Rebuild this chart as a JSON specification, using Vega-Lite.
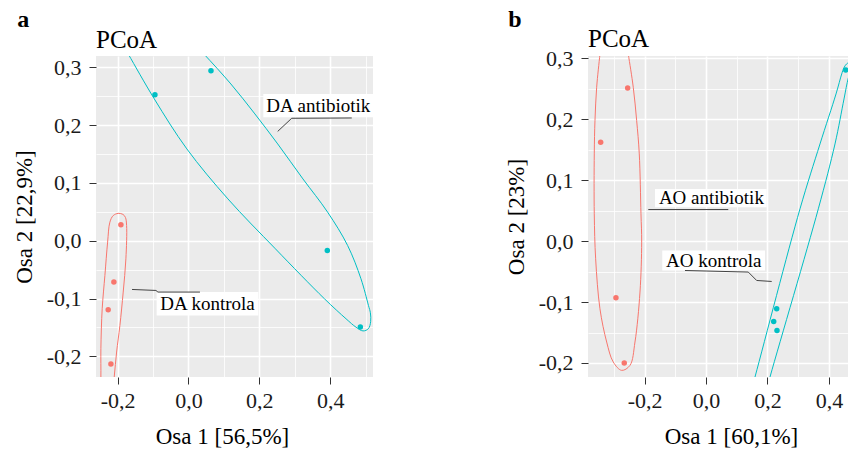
{
  "$schema": "https://vega.github.io/schema/vega-lite/v6.json",
  "padding": {"left": 13, "top": 8, "right": 0, "bottom": 0},
  "spacing": 132,
  "config": {
    "view": {"fill": "#EBEBEB", "stroke": null},
    "font": "Liberation Serif",
    "axis": {
      "domain": false,
      "labelFont": "Liberation Serif",
      "labelFontSize": 22,
      "labelColor": "#1a1a1a",
      "titleFont": "Liberation Serif",
      "titleFontSize": 23,
      "titleFontWeight": "normal",
      "titleColor": "#000000",
      "tickColor": "#333333",
      "tickSize": 7,
      "tickWidth": 1,
      "tickCount": 40,
      "gridColor": "#FFFFFF",
      "labelOverlap": false,
      "labelFlush": false,
      "labelBound": false
    },
    "axisX": {"labelPadding": 6, "titlePadding": 14},
    "axisY": {"labelPadding": 8, "titlePadding": 10},
    "title": {"font": "Liberation Serif", "fontWeight": "normal", "color": "#000000"}
  },
  "datasets": {
    "ptsA": [
      {"x": -0.0946, "y": 0.2526, "grp": "DA antibiotik"},
      {"x": 0.0636, "y": 0.294, "grp": "DA antibiotik"},
      {"x": 0.392, "y": -0.0169, "grp": "DA antibiotik"},
      {"x": 0.4853, "y": -0.1493, "grp": "DA antibiotik"},
      {"x": -0.1907, "y": 0.0275, "grp": "DA kontrola"},
      {"x": -0.2105, "y": -0.0715, "grp": "DA kontrola"},
      {"x": -0.2266, "y": -0.1194, "grp": "DA kontrola"},
      {"x": -0.2189, "y": -0.2132, "grp": "DA kontrola"}
    ],
    "ellA": [
      {"grp": "DA antibiotik", "i": 0, "x": -0.1946, "y": 0.3488},
      {"grp": "DA antibiotik", "i": 1, "x": -0.1701, "y": 0.323},
      {"grp": "DA antibiotik", "i": 2, "x": -0.0963, "y": 0.2452},
      {"grp": "DA antibiotik", "i": 3, "x": -0.0045, "y": 0.1588},
      {"grp": "DA antibiotik", "i": 4, "x": 0.1113, "y": 0.0724},
      {"grp": "DA antibiotik", "i": 5, "x": 0.2455, "y": -0.014},
      {"grp": "DA antibiotik", "i": 6, "x": 0.3839, "y": -0.1004},
      {"grp": "DA antibiotik", "i": 7, "x": 0.4449, "y": -0.135},
      {"grp": "DA antibiotik", "i": 8, "x": 0.4732, "y": -0.1496},
      {"grp": "DA antibiotik", "i": 9, "x": 0.4929, "y": -0.156},
      {"grp": "DA antibiotik", "i": 10, "x": 0.5079, "y": -0.1522},
      {"grp": "DA antibiotik", "i": 11, "x": 0.5144, "y": -0.1401},
      {"grp": "DA antibiotik", "i": 12, "x": 0.5136, "y": -0.1246},
      {"grp": "DA antibiotik", "i": 13, "x": 0.5082, "y": -0.112},
      {"grp": "DA antibiotik", "i": 14, "x": 0.487, "y": -0.0658},
      {"grp": "DA antibiotik", "i": 15, "x": 0.4494, "y": -0.0083},
      {"grp": "DA antibiotik", "i": 16, "x": 0.3929, "y": 0.0494},
      {"grp": "DA antibiotik", "i": 17, "x": 0.3232, "y": 0.1069},
      {"grp": "DA antibiotik", "i": 18, "x": 0.252, "y": 0.1674},
      {"grp": "DA antibiotik", "i": 19, "x": 0.1876, "y": 0.2193},
      {"grp": "DA antibiotik", "i": 20, "x": 0.1198, "y": 0.2711},
      {"grp": "DA antibiotik", "i": 21, "x": 0.0435, "y": 0.323},
      {"grp": "DA antibiotik", "i": 22, "x": 0.0031, "y": 0.3488},
      {"grp": "DA kontrola", "i": 0, "x": -0.2486, "y": -0.2732},
      {"grp": "DA kontrola", "i": 1, "x": -0.2472, "y": -0.2357},
      {"grp": "DA kontrola", "i": 2, "x": -0.2472, "y": -0.1868},
      {"grp": "DA kontrola", "i": 3, "x": -0.2435, "y": -0.1177},
      {"grp": "DA kontrola", "i": 4, "x": -0.2359, "y": -0.0601},
      {"grp": "DA kontrola", "i": 5, "x": -0.2282, "y": -0.0024},
      {"grp": "DA kontrola", "i": 6, "x": -0.2218, "y": 0.0321},
      {"grp": "DA kontrola", "i": 7, "x": -0.2124, "y": 0.0435},
      {"grp": "DA kontrola", "i": 8, "x": -0.1983, "y": 0.0473},
      {"grp": "DA kontrola", "i": 9, "x": -0.185, "y": 0.0456},
      {"grp": "DA kontrola", "i": 10, "x": -0.178, "y": 0.0404},
      {"grp": "DA kontrola", "i": 11, "x": -0.1746, "y": 0.0263},
      {"grp": "DA kontrola", "i": 12, "x": -0.1766, "y": -0.0313},
      {"grp": "DA kontrola", "i": 13, "x": -0.1842, "y": -0.0888},
      {"grp": "DA kontrola", "i": 14, "x": -0.1935, "y": -0.1465},
      {"grp": "DA kontrola", "i": 15, "x": -0.2028, "y": -0.1925},
      {"grp": "DA kontrola", "i": 16, "x": -0.2096, "y": -0.2357},
      {"grp": "DA kontrola", "i": 17, "x": -0.2161, "y": -0.2732}
    ],
    "segA": [
      {"id": "s1", "i": 0, "x": 0.252, "y": 0.1891},
      {"id": "s1", "i": 1, "x": 0.2915, "y": 0.2118},
      {"id": "s1", "i": 2, "x": 0.461, "y": 0.2123},
      {"id": "s2", "i": 0, "x": -0.1593, "y": -0.0843},
      {"id": "s2", "i": 1, "x": -0.0918, "y": -0.086},
      {"id": "s2", "i": 2, "x": -0.0862, "y": -0.0888},
      {"id": "s2", "i": 3, "x": 0.0325, "y": -0.0888}
    ],
    "lblA": [
      {"t": "DA antibiotik", "x": 0.3667, "y": 0.233, "x1": 0.2113, "x2": 0.521, "y1": 0.2135, "y2": 0.2538},
      {"t": "DA kontrola", "x": 0.0537, "y": -0.109, "x1": -0.0898, "x2": 0.1972, "y1": -0.1292, "y2": -0.0888}
    ],
    "ptsB": [
      {"x": -0.3428, "y": 0.1623, "grp": "AO antibiotik"},
      {"x": -0.2549, "y": 0.2513, "grp": "AO antibiotik"},
      {"x": -0.293, "y": -0.093, "grp": "AO antibiotik"},
      {"x": -0.266, "y": -0.2, "grp": "AO antibiotik"},
      {"x": 0.4548, "y": 0.2808, "grp": "AO kontrola"},
      {"x": 0.2301, "y": -0.111, "grp": "AO kontrola"},
      {"x": 0.2204, "y": -0.1318, "grp": "AO kontrola"},
      {"x": 0.2311, "y": -0.1466, "grp": "AO kontrola"}
    ],
    "ellB": [
      {"grp": "AO antibiotik", "i": 0, "x": -0.3402, "y": 0.3316},
      {"grp": "AO antibiotik", "i": 1, "x": -0.3451, "y": 0.307},
      {"grp": "AO antibiotik", "i": 2, "x": -0.3558, "y": 0.2525},
      {"grp": "AO antibiotik", "i": 3, "x": -0.3613, "y": 0.1977},
      {"grp": "AO antibiotik", "i": 4, "x": -0.3636, "y": 0.1431},
      {"grp": "AO antibiotik", "i": 5, "x": -0.3636, "y": 0.0448},
      {"grp": "AO antibiotik", "i": 6, "x": -0.3591, "y": -0.029},
      {"grp": "AO antibiotik", "i": 7, "x": -0.3451, "y": -0.111},
      {"grp": "AO antibiotik", "i": 8, "x": -0.3232, "y": -0.1656},
      {"grp": "AO antibiotik", "i": 9, "x": -0.3018, "y": -0.1984},
      {"grp": "AO antibiotik", "i": 10, "x": -0.2744, "y": -0.2121},
      {"grp": "AO antibiotik", "i": 11, "x": -0.2474, "y": -0.2039},
      {"grp": "AO antibiotik", "i": 12, "x": -0.2311, "y": -0.1656},
      {"grp": "AO antibiotik", "i": 13, "x": -0.2148, "y": -0.0836},
      {"grp": "AO antibiotik", "i": 14, "x": -0.2093, "y": -0.0016},
      {"grp": "AO antibiotik", "i": 15, "x": -0.2116, "y": 0.0448},
      {"grp": "AO antibiotik", "i": 16, "x": -0.2171, "y": 0.1431},
      {"grp": "AO antibiotik", "i": 17, "x": -0.2256, "y": 0.1977},
      {"grp": "AO antibiotik", "i": 18, "x": -0.2367, "y": 0.2525},
      {"grp": "AO antibiotik", "i": 19, "x": -0.2529, "y": 0.307},
      {"grp": "AO antibiotik", "i": 20, "x": -0.2604, "y": 0.3316},
      {"grp": "AO kontrola", "i": 0, "x": 0.127, "y": -0.2831},
      {"grp": "AO kontrola", "i": 1, "x": 0.1595, "y": -0.223},
      {"grp": "AO kontrola", "i": 2, "x": 0.306, "y": 0.053},
      {"grp": "AO kontrola", "i": 3, "x": 0.3711, "y": 0.1595},
      {"grp": "AO kontrola", "i": 4, "x": 0.4232, "y": 0.2415},
      {"grp": "AO kontrola", "i": 5, "x": 0.4417, "y": 0.2743},
      {"grp": "AO kontrola", "i": 6, "x": 0.4486, "y": 0.2841},
      {"grp": "AO kontrola", "i": 7, "x": 0.4574, "y": 0.2907},
      {"grp": "AO kontrola", "i": 8, "x": 0.4671, "y": 0.2931},
      {"grp": "AO kontrola", "i": 9, "x": 0.4736, "y": 0.2898},
      {"grp": "AO kontrola", "i": 10, "x": 0.472, "y": 0.2808},
      {"grp": "AO kontrola", "i": 11, "x": 0.4632, "y": 0.2677},
      {"grp": "AO kontrola", "i": 12, "x": 0.4492, "y": 0.2333},
      {"grp": "AO kontrola", "i": 13, "x": 0.4199, "y": 0.1595},
      {"grp": "AO kontrola", "i": 14, "x": 0.3656, "y": 0.053},
      {"grp": "AO kontrola", "i": 15, "x": 0.2083, "y": -0.223},
      {"grp": "AO kontrola", "i": 16, "x": 0.1758, "y": -0.2831}
    ],
    "segB": [
      {"id": "s1", "i": 0, "x": -0.1878, "y": 0.0518},
      {"id": "s1", "i": 1, "x": 0.0726, "y": 0.0518},
      {"id": "s2", "i": 0, "x": -0.0684, "y": -0.0482},
      {"id": "s2", "i": 1, "x": 0.1377, "y": -0.0508},
      {"id": "s2", "i": 2, "x": 0.165, "y": -0.0646},
      {"id": "s2", "i": 3, "x": 0.2139, "y": -0.0662}
    ],
    "lblB": [
      {"t": "AO antibiotik", "x": 0.0176, "y": 0.071, "x1": -0.166, "x2": 0.1976, "y1": 0.0557, "y2": 0.0857},
      {"t": "AO kontrola", "x": 0.0251, "y": -0.0331, "x1": -0.1423, "x2": 0.1921, "y1": -0.0482, "y2": -0.0154}
    ]
  },
  "hconcat": [
    {
      "title": {"text": "a", "anchor": "start", "frame": "bounds", "fontSize": 24, "fontWeight": "bold", "dx": 4, "offset": -4},
      "vconcat": [
        {
          "width": 277,
          "height": 321,
          "title": {"text": "PCoA", "anchor": "start", "frame": "group", "fontSize": 25, "offset": 3},
          "layer": [
            {
              "data": {"name": "ellA"},
              "mark": {"type": "line", "clip": true, "strokeWidth": 1, "interpolate": "catmull-rom"},
              "encoding": {
                "x": {"field": "x", "type": "quantitative", "title": "Osa 1 [56,5%]",
                  "scale": {"domain": [-0.261, 0.521], "nice": false, "zero": false},
                  "axis": {
                    "values": [-0.2, -0.1, 0, 0.1, 0.2, 0.3, 0.4, 0.5],
                    "tickCount": 40,
                    "labelExpr": "abs(round(datum.value*10)) % 2 == 0 ? replace(replace(format(datum.value, '.1f'), '.', ','), '\u2212', '-') : ''",
                    "gridWidth": {"condition": {"test": "abs(round(datum.value*10)) % 2 == 0", "value": 1.6}, "value": 0.8},
                    "tickOpacity": {"condition": {"test": "abs(round(datum.value*10)) % 2 == 0", "value": 1}, "value": 0},
                    "titleX": 126
                  }},
                "y": {"field": "y", "type": "quantitative", "title": "Osa 2 [22,9%]",
                  "scale": {"domain": [-0.2357, 0.3195], "nice": false, "zero": false},
                  "axis": {
                    "values": [-0.2, -0.15, -0.1, -0.05, 0, 0.05, 0.1, 0.15, 0.2, 0.25, 0.3],
                    "tickCount": 40,
                    "labelExpr": "abs(round(datum.value*100)) % 10 == 0 ? replace(replace(format(datum.value, '.1f'), '.', ','), '\u2212', '-') : ''",
                    "gridWidth": {"condition": {"test": "abs(round(datum.value*100)) % 10 == 0", "value": 1.6}, "value": 0.8},
                    "tickOpacity": {"condition": {"test": "abs(round(datum.value*100)) % 10 == 0", "value": 1}, "value": 0}
                  }},
                "color": {"field": "grp", "type": "nominal", "scale": {"domain": ["DA kontrola", "DA antibiotik"], "range": ["#F8766D", "#00BFC4"]}, "legend": null},
                "detail": {"field": "grp"},
                "order": {"field": "i", "type": "quantitative"}
              }
            },
            {
              "data": {"name": "ptsA"},
              "mark": {"type": "circle", "size": 30, "opacity": 1, "clip": true},
              "encoding": {
                "x": {"field": "x", "type": "quantitative", "title": "Osa 1 [56,5%]"},
                "y": {"field": "y", "type": "quantitative", "title": "Osa 2 [22,9%]"},
                "color": {"field": "grp", "type": "nominal", "legend": null}
              }
            },
            {
              "data": {"name": "lblA"},
              "mark": {"type": "rect", "fill": "#FFFFFF", "clip": true},
              "encoding": {
                "x": {"field": "x1", "type": "quantitative", "title": "Osa 1 [56,5%]"},
                "x2": {"field": "x2"},
                "y": {"field": "y1", "type": "quantitative", "title": "Osa 2 [22,9%]"},
                "y2": {"field": "y2"}
              }
            },
            {
              "data": {"name": "segA"},
              "mark": {"type": "line", "clip": true, "strokeWidth": 1, "color": "#444444"},
              "encoding": {
                "x": {"field": "x", "type": "quantitative", "title": "Osa 1 [56,5%]"},
                "y": {"field": "y", "type": "quantitative", "title": "Osa 2 [22,9%]"},
                "detail": {"field": "id"},
                "order": {"field": "i", "type": "quantitative"}
              }
            },
            {
              "data": {"name": "lblA"},
              "mark": {"type": "text", "font": "Liberation Serif", "fontSize": 19, "color": "#000000", "align": "center", "baseline": "middle", "clip": true},
              "encoding": {
                "x": {"field": "x", "type": "quantitative", "title": "Osa 1 [56,5%]"},
                "y": {"field": "y", "type": "quantitative", "title": "Osa 2 [22,9%]"},
                "text": {"field": "t"}
              }
            }
          ]
        }
      ]
    },
    {
      "title": {"text": "b", "anchor": "start", "frame": "bounds", "fontSize": 24, "fontWeight": "bold", "dx": 3, "offset": -5},
      "vconcat": [
        {
          "width": 260,
          "height": 321,
          "title": {"text": "PCoA", "anchor": "start", "frame": "group", "fontSize": 25, "offset": -5},
          "layer": [
            {
              "data": {"name": "ellB"},
              "mark": {"type": "line", "clip": true, "strokeWidth": 1, "interpolate": "catmull-rom"},
              "encoding": {
                "x": {"field": "x", "type": "quantitative", "title": "Osa 1 [60,1%]",
                  "scale": {"domain": [-0.384, 0.4622], "nice": false, "zero": false},
                  "axis": {
                    "values": [-0.3, -0.2, -0.1, 0, 0.1, 0.2, 0.3, 0.4],
                    "tickCount": 40,
                    "labelExpr": "abs(round(datum.value*10)) % 2 == 0 ? replace(replace(format(datum.value, '.1f'), '.', ','), '\u2212', '-') : ''",
                    "gridWidth": {"condition": {"test": "abs(round(datum.value*10)) % 2 == 0", "value": 1.6}, "value": 0.8},
                    "tickOpacity": {"condition": {"test": "abs(round(datum.value*10)) % 2 == 0", "value": 1}, "value": 0},
                    "titleX": 143
                  }},
                "y": {"field": "y", "type": "quantitative", "title": "Osa 2 [23%]",
                  "scale": {"domain": [-0.223, 0.3038], "nice": false, "zero": false},
                  "axis": {
                    "values": [-0.2, -0.15, -0.1, -0.05, 0, 0.05, 0.1, 0.15, 0.2, 0.25, 0.3],
                    "tickCount": 40,
                    "labelExpr": "abs(round(datum.value*100)) % 10 == 0 ? replace(replace(format(datum.value, '.1f'), '.', ','), '\u2212', '-') : ''",
                    "gridWidth": {"condition": {"test": "abs(round(datum.value*100)) % 10 == 0", "value": 1.6}, "value": 0.8},
                    "tickOpacity": {"condition": {"test": "abs(round(datum.value*100)) % 10 == 0", "value": 1}, "value": 0}
                  }},
                "color": {"field": "grp", "type": "nominal", "scale": {"domain": ["AO antibiotik", "AO kontrola"], "range": ["#F8766D", "#00BFC4"]}, "legend": null},
                "detail": {"field": "grp"},
                "order": {"field": "i", "type": "quantitative"}
              }
            },
            {
              "data": {"name": "ptsB"},
              "mark": {"type": "circle", "size": 30, "opacity": 1, "clip": true},
              "encoding": {
                "x": {"field": "x", "type": "quantitative", "title": "Osa 1 [60,1%]"},
                "y": {"field": "y", "type": "quantitative", "title": "Osa 2 [23%]"},
                "color": {"field": "grp", "type": "nominal", "legend": null}
              }
            },
            {
              "data": {"name": "lblB"},
              "mark": {"type": "rect", "fill": "#FFFFFF", "clip": true},
              "encoding": {
                "x": {"field": "x1", "type": "quantitative", "title": "Osa 1 [60,1%]"},
                "x2": {"field": "x2"},
                "y": {"field": "y1", "type": "quantitative", "title": "Osa 2 [23%]"},
                "y2": {"field": "y2"}
              }
            },
            {
              "data": {"name": "segB"},
              "mark": {"type": "line", "clip": true, "strokeWidth": 1, "color": "#444444"},
              "encoding": {
                "x": {"field": "x", "type": "quantitative", "title": "Osa 1 [60,1%]"},
                "y": {"field": "y", "type": "quantitative", "title": "Osa 2 [23%]"},
                "detail": {"field": "id"},
                "order": {"field": "i", "type": "quantitative"}
              }
            },
            {
              "data": {"name": "lblB"},
              "mark": {"type": "text", "font": "Liberation Serif", "fontSize": 19, "color": "#000000", "align": "center", "baseline": "middle", "clip": true},
              "encoding": {
                "x": {"field": "x", "type": "quantitative", "title": "Osa 1 [60,1%]"},
                "y": {"field": "y", "type": "quantitative", "title": "Osa 2 [23%]"},
                "text": {"field": "t"}
              }
            }
          ]
        }
      ]
    }
  ]
}
